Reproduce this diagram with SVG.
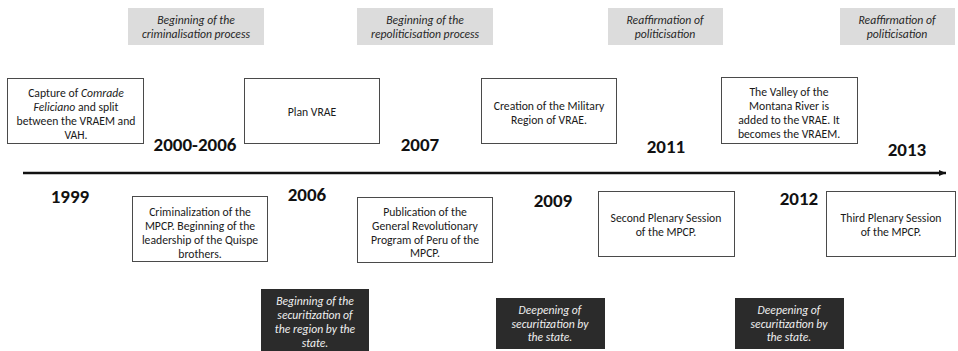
<svg xmlns="http://www.w3.org/2000/svg" width="958" height="351" viewBox="0 0 958 351">
<defs>
<style>
.t{font-family:Carlito,"Liberation Sans",Arial,sans-serif;font-size:11.7px;fill:#1a1a1a;text-anchor:middle}
.gi{font-family:Carlito,"Liberation Sans",Arial,sans-serif;font-size:11.7px;font-style:italic;fill:#262626;text-anchor:middle}
.di{font-family:Carlito,"Liberation Sans",Arial,sans-serif;font-size:11.7px;font-style:italic;fill:#f0f0f0;text-anchor:middle}
.y{font-family:Carlito,"Liberation Sans",Arial,sans-serif;font-size:19px;font-weight:bold;fill:#111;text-anchor:middle}
.box{fill:#fff;stroke:#4a4a4a;stroke-width:1}
.grey{fill:#dcdcdc}
.dark{fill:#2b2b2b}
</style>
<marker id="ah" markerWidth="8" markerHeight="8" refX="7" refY="4" orient="auto" markerUnits="userSpaceOnUse">
<path d="M0,1 L7,4 L0,7 Z" fill="#111"/>
</marker>
</defs>
<rect width="958" height="351" fill="#fff"/>

<g id="connectors">
<line x1="23" y1="173" x2="946" y2="173" stroke="#111" stroke-width="2.5" marker-end="url(#ah)"/>
</g>

<g id="phase-criminalisation">
<rect class="grey" x="128" y="8" width="136" height="37"/>
<text class="gi" x="196" y="24">Beginning of the</text>
<text class="gi" x="196" y="38">criminalisation process</text>
</g>
<g id="phase-repoliticisation">
<rect class="grey" x="357" y="8" width="136" height="37"/>
<text class="gi" x="425" y="24">Beginning of the</text>
<text class="gi" x="425" y="38">repoliticisation process</text>
</g>
<g id="phase-reaffirmation-1">
<rect class="grey" x="608" y="8" width="115" height="37"/>
<text class="gi" x="665" y="24">Reaffirmation of</text>
<text class="gi" x="665" y="38">politicisation</text>
</g>
<g id="phase-reaffirmation-2">
<rect class="grey" x="840" y="8" width="115" height="37"/>
<text class="gi" x="897" y="24">Reaffirmation of</text>
<text class="gi" x="897" y="38">politicisation</text>
</g>

<g id="event-1999">
<rect class="box" x="7.5" y="78.5" width="136" height="65"/>
<text class="t" x="76" y="97">Capture of <tspan font-style="italic">Comrade</tspan></text>
<text class="t" x="76" y="111"><tspan font-style="italic">Feliciano</tspan> and split</text>
<text class="t" x="76" y="125">between the VRAEM and</text>
<text class="t" x="76" y="139">VAH.</text>
<text class="y" x="70" y="203">1999</text>
</g>

<g id="event-2000-2006">
<rect class="box" x="132.5" y="196.5" width="135" height="65"/>
<text class="t" x="200" y="216">Criminalization of the</text>
<text class="t" x="200" y="230">MPCP. Beginning of the</text>
<text class="t" x="200" y="244">leadership of the Quispe</text>
<text class="t" x="200" y="258">brothers.</text>
<text class="y" x="195" y="151">2000-2006</text>
</g>

<g id="event-2006">
<rect class="box" x="244.5" y="78.5" width="135" height="65"/>
<text class="t" x="312" y="116">Plan VRAE</text>
<text class="y" x="307" y="201">2006</text>
<rect class="dark" x="261" y="289" width="108" height="62"/>
<text class="di" x="315" y="305">Beginning of the</text>
<text class="di" x="315" y="319">securitization of</text>
<text class="di" x="315" y="333">the region by the</text>
<text class="di" x="315" y="347">state.</text>
</g>

<g id="event-2007">
<rect class="box" x="357.5" y="197.5" width="135" height="65"/>
<text class="t" x="425" y="216">Publication of the</text>
<text class="t" x="425" y="230">General Revolutionary</text>
<text class="t" x="425" y="244">Program of Peru of the</text>
<text class="t" x="425" y="257">MPCP.</text>
<text class="y" x="420" y="151">2007</text>
</g>

<g id="event-2009">
<rect class="box" x="481.5" y="78.5" width="135" height="65"/>
<text class="t" x="549" y="110">Creation of the Military</text>
<text class="t" x="549" y="124">Region of VRAE.</text>
<text class="y" x="553" y="207">2009</text>
<rect class="dark" x="496" y="298" width="109" height="51"/>
<text class="di" x="550" y="314">Deepening of</text>
<text class="di" x="550" y="328">securitization by</text>
<text class="di" x="550" y="341">the state.</text>
</g>

<g id="event-2011">
<rect class="box" x="598.5" y="191.5" width="136" height="65"/>
<text class="t" x="666" y="222">Second Plenary Session</text>
<text class="t" x="666" y="236">of the MPCP.</text>
<text class="y" x="666" y="153">2011</text>
</g>

<g id="event-2012">
<rect class="box" x="721.5" y="77.5" width="136" height="66"/>
<text class="t" x="789" y="96">The Valley of the</text>
<text class="t" x="789" y="110">Montana River is</text>
<text class="t" x="789" y="124">added to the VRAE. It</text>
<text class="t" x="789" y="138">becomes the VRAEM.</text>
<text class="y" x="799" y="205">2012</text>
<rect class="dark" x="735" y="298" width="109" height="51"/>
<text class="di" x="789" y="314">Deepening of</text>
<text class="di" x="789" y="328">securitization by</text>
<text class="di" x="789" y="341">the state.</text>
</g>

<g id="event-2013">
<rect class="box" x="826.5" y="191.5" width="129" height="65"/>
<text class="t" x="891" y="222">Third Plenary Session</text>
<text class="t" x="891" y="236">of the MPCP.</text>
<text class="y" x="907" y="156">2013</text>
</g>
</svg>
